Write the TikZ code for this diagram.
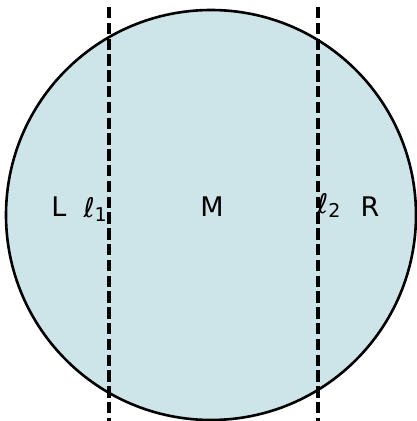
\documentclass[tikz,border=0pt]{standalone}
\usepackage{fontspec}
\setmainfont{DejaVu Sans}
\definecolor{diskfill}{RGB}{205,228,233}
\begin{document}
\begin{tikzpicture}[x=1pt,y=1pt,
  disk/.style={fill=diskfill,draw=black,line width=2.6pt},
  cutline/.style={draw=black,line width=3.1pt,dash pattern=on 11.5pt off 4.3pt},
  region/.style={inner sep=0pt,font=\fontsize{27}{27}\selectfont},
  linelabel/.style={inner sep=0pt}]
\useasboundingbox (0,0) rectangle (417,421);
\path[disk] (211,206) circle (205);
\coordinate (t1) at (109,414);
\coordinate (b1) at (109,0);
\coordinate (t2) at (318,414);
\coordinate (b2) at (318,0);
\draw[cutline] (t1) -- (b1);
\draw[cutline] (t2) -- (b2);
\node[region,anchor=base] (L) at (59,204) {L};
\node[region,anchor=base] (M) at (212,204) {M};
\node[region,anchor=base] (R) at (370,204) {R};
\node[linelabel,anchor=base east] (l1) at (107,203) {{\fontsize{27}{27}\selectfont\itshape ℓ}{\fontsize{19}{19}\selectfont\raisebox{-4pt}{1}}};
\node[linelabel,anchor=base west] (l2) at (317,207) {{\fontsize{27}{27}\selectfont\itshape ℓ}{\fontsize{19}{19}\selectfont\raisebox{-4pt}{2}}};
\end{tikzpicture}
\end{document}
